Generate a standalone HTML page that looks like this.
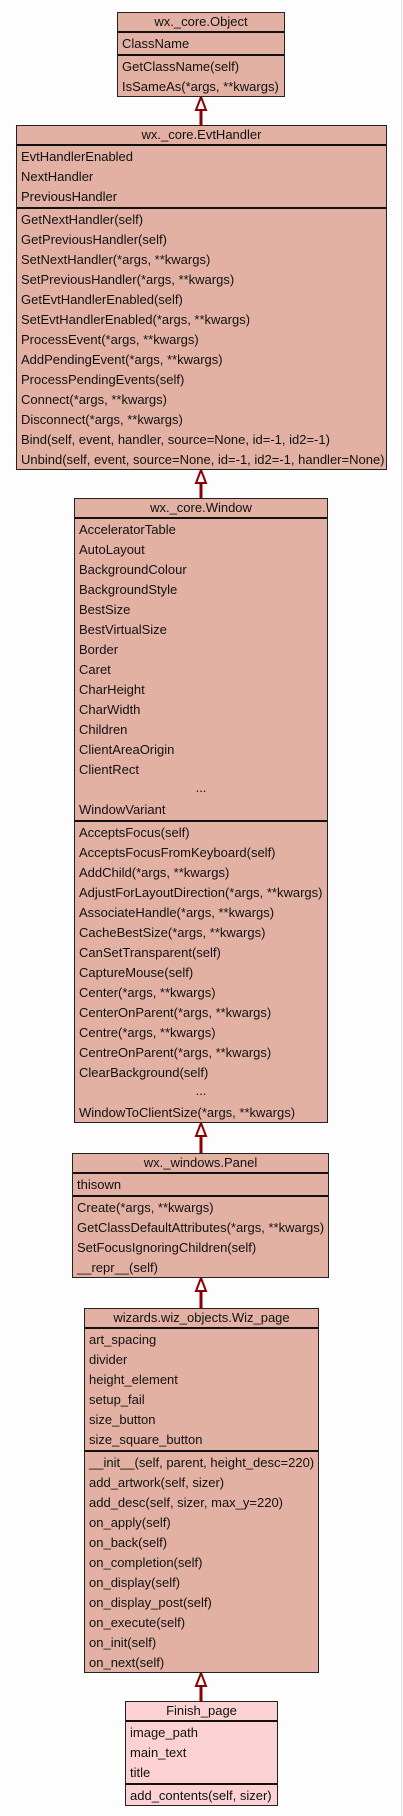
<!DOCTYPE html>
<html><head><meta charset="utf-8"><style>
html,body{margin:0;padding:0;}
body{width:403px;height:1816px;background:#fdfdfd;position:relative;overflow:hidden;font-family:"Liberation Sans",Arial,sans-serif;font-size:13px;color:#111;}
.edge{position:absolute;left:401px;top:0;width:1px;height:1816px;background:#ddd;}
.box{position:absolute;box-sizing:border-box;border:1px solid #222;background:#e3b1a4;overflow:hidden;}
.t{height:18px;line-height:18px;text-align:center;}
.s{border-top:2px solid #111;padding-top:1px;}
.r{height:20px;line-height:20px;padding-left:4px;white-space:nowrap;}
.e{text-align:center;padding-left:0;line-height:16px;}
svg{position:absolute;left:0;top:0;}
</style></head><body>
<div class="edge"></div>
<svg width="403" height="1816">
<g stroke="#8b0000" fill="#fdfdfd" stroke-width="2">
<line x1="201" y1="108" x2="201" y2="125" stroke-width="3"/><polygon points="201,97 196,110 206,110"/>
<line x1="201" y1="482" x2="201" y2="498" stroke-width="3"/><polygon points="201,470 196,483 206,483"/>
<line x1="201" y1="1134" x2="201" y2="1153" stroke-width="3"/><polygon points="201,1123 196,1136 206,1136"/>
<line x1="201" y1="1289" x2="201" y2="1308" stroke-width="3"/><polygon points="201,1278 196,1291 206,1291"/>
<line x1="201" y1="1684" x2="201" y2="1701" stroke-width="3"/><polygon points="201,1673 196,1686 206,1686"/>
</g></svg>

<div class="box" style="left:117px;top:12px;width:168px;height:85px;">
<div class="t">wx._core.Object</div>
<div class="s"><div class="r">ClassName</div></div>
<div class="s"><div class="r">GetClassName(self)</div><div class="r">IsSameAs(*args, **kwargs)</div></div>
</div>

<div class="box" style="left:16px;top:125px;width:371px;height:345px;">
<div class="t">wx._core.EvtHandler</div>
<div class="s"><div class="r">EvtHandlerEnabled</div><div class="r">NextHandler</div><div class="r">PreviousHandler</div></div>
<div class="s">
<div class="r">GetNextHandler(self)</div><div class="r">GetPreviousHandler(self)</div><div class="r">SetNextHandler(*args, **kwargs)</div><div class="r">SetPreviousHandler(*args, **kwargs)</div><div class="r">GetEvtHandlerEnabled(self)</div><div class="r">SetEvtHandlerEnabled(*args, **kwargs)</div><div class="r">ProcessEvent(*args, **kwargs)</div><div class="r">AddPendingEvent(*args, **kwargs)</div><div class="r">ProcessPendingEvents(self)</div><div class="r">Connect(*args, **kwargs)</div><div class="r">Disconnect(*args, **kwargs)</div><div class="r">Bind(self, event, handler, source=None, id=-1, id2=-1)</div><div class="r">Unbind(self, event, source=None, id=-1, id2=-1, handler=None)</div>
</div></div>

<div class="box" style="left:74px;top:498px;width:254px;height:625px;">
<div class="t">wx._core.Window</div>
<div class="s">
<div class="r">AcceleratorTable</div><div class="r">AutoLayout</div><div class="r">BackgroundColour</div><div class="r">BackgroundStyle</div><div class="r">BestSize</div><div class="r">BestVirtualSize</div><div class="r">Border</div><div class="r">Caret</div><div class="r">CharHeight</div><div class="r">CharWidth</div><div class="r">Children</div><div class="r">ClientAreaOrigin</div><div class="r">ClientRect</div><div class="r e">...</div><div class="r">WindowVariant</div>
</div>
<div class="s">
<div class="r">AcceptsFocus(self)</div><div class="r">AcceptsFocusFromKeyboard(self)</div><div class="r">AddChild(*args, **kwargs)</div><div class="r">AdjustForLayoutDirection(*args, **kwargs)</div><div class="r">AssociateHandle(*args, **kwargs)</div><div class="r">CacheBestSize(*args, **kwargs)</div><div class="r">CanSetTransparent(self)</div><div class="r">CaptureMouse(self)</div><div class="r">Center(*args, **kwargs)</div><div class="r">CenterOnParent(*args, **kwargs)</div><div class="r">Centre(*args, **kwargs)</div><div class="r">CentreOnParent(*args, **kwargs)</div><div class="r">ClearBackground(self)</div><div class="r e">...</div><div class="r">WindowToClientSize(*args, **kwargs)</div>
</div></div>

<div class="box" style="left:72px;top:1153px;width:257px;height:125px;">
<div class="t">wx._windows.Panel</div>
<div class="s"><div class="r">thisown</div></div>
<div class="s"><div class="r">Create(*args, **kwargs)</div><div class="r">GetClassDefaultAttributes(*args, **kwargs)</div><div class="r">SetFocusIgnoringChildren(self)</div><div class="r">__repr__(self)</div></div>
</div>

<div class="box" style="left:84px;top:1308px;width:235px;height:365px;">
<div class="t">wizards.wiz_objects.Wiz_page</div>
<div class="s"><div class="r">art_spacing</div><div class="r">divider</div><div class="r">height_element</div><div class="r">setup_fail</div><div class="r">size_button</div><div class="r">size_square_button</div></div>
<div class="s"><div class="r">__init__(self, parent, height_desc=220)</div><div class="r">add_artwork(self, sizer)</div><div class="r">add_desc(self, sizer, max_y=220)</div><div class="r">on_apply(self)</div><div class="r">on_back(self)</div><div class="r">on_completion(self)</div><div class="r">on_display(self)</div><div class="r">on_display_post(self)</div><div class="r">on_execute(self)</div><div class="r">on_init(self)</div><div class="r">on_next(self)</div></div>
</div>

<div class="box" style="left:125px;top:1701px;width:153px;height:105px;background:#fcd1d3;">
<div class="t">Finish_page</div>
<div class="s"><div class="r">image_path</div><div class="r">main_text</div><div class="r">title</div></div>
<div class="s"><div class="r">add_contents(self, sizer)</div></div>
</div>
</body></html>
